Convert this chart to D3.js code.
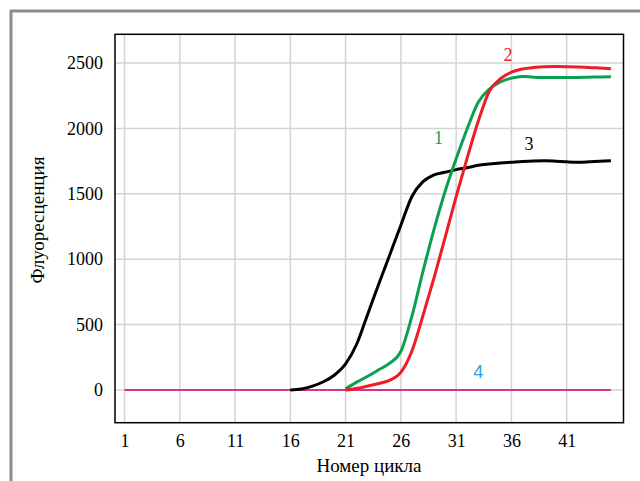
<!DOCTYPE html>
<html>
<head>
<meta charset="utf-8">
<script src="https://cdn.jsdelivr.net/npm/d3@7"></script>
<style>
  body { margin: 0; background: #fff; }
</style>
</head>
<body>
<div id="chart"></div>
<script>
const width = 640, height = 481;
const serif = "'Liberation Serif', 'Times New Roman', 'DejaVu Serif', serif";
const sans = "'Liberation Sans', Arial, sans-serif";

// cycles 1..45
const cycles = d3.range(1, 46);
const xTicks = [1, 6, 11, 16, 21, 26, 31, 36, 41];
const yTicks = [0, 500, 1000, 1500, 2000, 2500];

// series values, from cycle 16 (curve 3) or 21 (curves 1, 2) onward
const curve3 = [0, 8, 30, 63, 115, 200, 350, 580, 810, 1035, 1260, 1480, 1593, 1645, 1665,
    1685, 1700, 1718, 1728, 1736, 1742, 1748, 1752, 1753, 1750, 1745, 1742, 1745, 1750, 1753];
const curve1 = [10, 60, 105, 155, 205, 295, 565, 907, 1229, 1518, 1768, 1998, 2200, 2300, 2355,
    2385, 2398, 2392, 2390, 2390, 2390, 2390, 2392, 2394, 2395];
const curve2 = [0, 12, 30, 50, 75, 135, 298, 569, 858, 1165, 1478, 1775, 2055, 2285, 2380,
    2430, 2455, 2466, 2472, 2473, 2472, 2470, 2467, 2462, 2457];
const curve4 = cycles.map(() => 0);

const series = [
    { name: "4", start: 1, values: curve4, color: "#d6338f", width: 2 },
    { name: "3", start: 16, values: curve3, color: "#000000", width: 3 },
    { name: "1", start: 21, values: curve1, color: "#0aa04f", width: 3 },
    { name: "2", start: 21, values: curve2, color: "#ee1c25", width: 3 }
];

const labels = [
    { text: "1", x: 29.4, y: 1924, color: "#0aa04f", font: serif },
    { text: "2", x: 35.7, y: 2561, color: "#ee1c25", font: serif },
    { text: "3", x: 37.6, y: 1881, color: "#000000", font: serif },
    { text: "4", x: 33.0, y: 140, color: "#27a2dc", font: sans }
];

const svg = d3.select("#chart").append("svg")
    .attr("width", width)
    .attr("height", height);

// outer frame
svg.append("rect")
    .attr("x", 11).attr("y", 11)
    .attr("width", 660).attr("height", 500)
    .attr("fill", "none")
    .attr("stroke", "#8c8c8c")
    .attr("stroke-width", 3);

const x = d3.scaleLinear().domain([0.14, 46.14]).range([115, 623.5]);
const y = d3.scaleLinear().domain([-250, 2720]).range([422.7, 34.3]);

// grid
svg.append("g").selectAll("line").data(xTicks).join("line")
    .attr("x1", d => x(d)).attr("x2", d => x(d))
    .attr("y1", y.range()[1]).attr("y2", y.range()[0])
    .attr("stroke", "#d4d4d4").attr("stroke-width", 1.5);
svg.append("g").selectAll("line").data(yTicks).join("line")
    .attr("x1", x.range()[0]).attr("x2", x.range()[1])
    .attr("y1", d => y(d)).attr("y2", d => y(d))
    .attr("stroke", "#d4d4d4").attr("stroke-width", 1.5);

// axes labels
const xAxis = d3.axisBottom(x).tickValues(xTicks).tickFormat(d3.format("d")).tickSize(0).tickPadding(12);
svg.append("g")
    .attr("transform", `translate(0,${y.range()[0]})`)
    .call(xAxis)
    .attr("font-size", 18)
    .attr("font-family", serif)
    .call(g => g.select(".domain").remove())
    .selectAll("text")
    .attr("fill", "#000");

const yAxis = d3.axisLeft(y).tickValues(yTicks).tickFormat(d3.format("d")).tickSize(0).tickPadding(12);
svg.append("g")
    .attr("transform", `translate(${x.range()[0]},0)`)
    .call(yAxis)
    .attr("font-size", 18)
    .attr("font-family", serif)
    .call(g => g.select(".domain").remove())
    .selectAll("text")
    .attr("fill", "#000");

// curves
const line = d3.line()
    .x(d => x(d.c))
    .y(d => y(d.v))
    .curve(d3.curveMonotoneX);

series.forEach(s => {
    const pts = s.values.map((v, i) => ({ c: s.start + i, v: v }));
    svg.append("path")
        .datum(pts)
        .attr("d", line)
        .attr("fill", "none")
        .attr("stroke", s.color)
        .attr("stroke-width", s.width)
        .attr("stroke-linejoin", "round");
});

// plot frame
svg.append("rect")
    .attr("x", x.range()[0]).attr("y", y.range()[1])
    .attr("width", x.range()[1] - x.range()[0])
    .attr("height", y.range()[0] - y.range()[1])
    .attr("fill", "none")
    .attr("stroke", "#000")
    .attr("stroke-width", 1.5);

// curve labels
labels.forEach(l => {
    svg.append("text")
        .attr("x", x(l.x))
        .attr("y", y(l.y))
        .attr("text-anchor", "middle")
        .attr("dominant-baseline", "central")
        .attr("font-family", l.font)
        .attr("font-size", 18)
        .attr("fill", l.color)
        .text(l.text);
});

// axis titles
svg.append("text")
    .attr("x", 369).attr("y", 472)
    .attr("text-anchor", "middle")
    .attr("font-family", serif)
    .attr("font-size", 19)
    .text("Номер цикла");

svg.append("text")
    .attr("transform", "translate(44,220) rotate(-90)")
    .attr("text-anchor", "middle")
    .attr("font-family", serif)
    .attr("font-size", 19)
    .text("Флуоресценция");
</script>
</body>
</html>
